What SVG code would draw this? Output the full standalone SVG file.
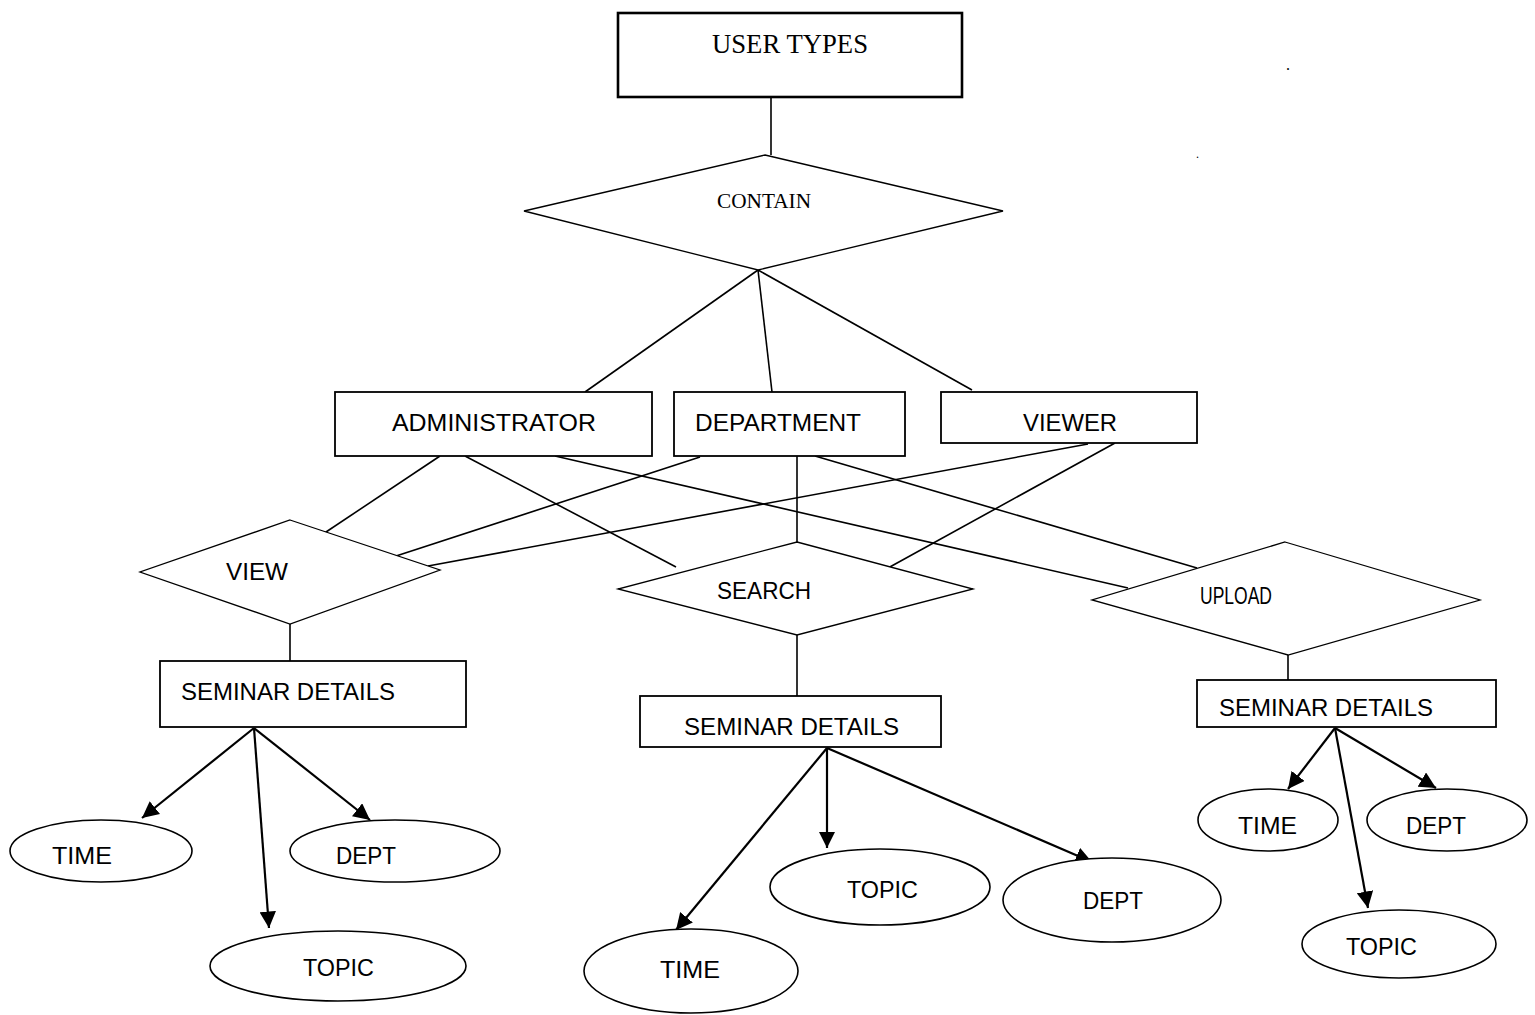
<svg xmlns="http://www.w3.org/2000/svg" width="1535" height="1015" viewBox="0 0 1535 1015">
<style>
.bg{fill:#fff}
.box{fill:#fff;stroke:#000;stroke-width:1.8}
.dia{fill:#fff;stroke:#000;stroke-width:1.3}
.ell{fill:#fff;stroke:#000;stroke-width:1.6}
.ln{stroke:#000;stroke-width:1.6;fill:none}
.ar{stroke:#000;stroke-width:2.2;fill:none;marker-end:url(#ah)}
.s{font-family:"Liberation Sans",Arial,sans-serif;font-size:24px;fill:#000}
.r{font-family:"Liberation Serif","Times New Roman",serif;fill:#000}
</style>
<defs>
<marker id="ah" viewBox="0 0 10 10" refX="10" refY="5" markerWidth="7.5" markerHeight="7.5" markerUnits="strokeWidth" orient="auto">
<path d="M0,0 L10,5 L0,10 z" fill="#000"/>
</marker>
</defs>
<rect class="bg" x="0" y="0" width="1535" height="1015"/>

<g id="connectors">
<line class="ln" x1="771" y1="97" x2="771" y2="155"/>
<line class="ln" x1="758" y1="270" x2="585" y2="392"/>
<line class="ln" x1="758" y1="270" x2="772" y2="392"/>
<line class="ln" x1="758" y1="270" x2="972" y2="390"/>
<line class="ln" x1="440" y1="456" x2="320" y2="536"/>
<line class="ln" x1="700" y1="457" x2="393" y2="557"/>
<line class="ln" x1="1088" y1="444" x2="428" y2="566"/>
<line class="ln" x1="465" y1="456" x2="676" y2="567"/>
<line class="ln" x1="555" y1="456" x2="1128" y2="588"/>
<line class="ln" x1="797" y1="456" x2="797" y2="542"/>
<line class="ln" x1="815" y1="456" x2="1197" y2="568"/>
<line class="ln" x1="1115" y1="443" x2="888" y2="568"/>
<line class="ln" x1="290" y1="624" x2="290" y2="661"/>
<line class="ln" x1="797" y1="635" x2="797" y2="696"/>
<line class="ln" x1="1288" y1="655" x2="1288" y2="680"/>
<line class="ar" x1="254" y1="728" x2="142" y2="818"/>
<line class="ar" x1="254" y1="728" x2="269" y2="928"/>
<line class="ar" x1="254" y1="728" x2="370" y2="820"/>
<line class="ar" x1="827" y1="748" x2="676" y2="930"/>
<line class="ar" x1="827" y1="748" x2="827" y2="848"/>
<line class="ar" x1="827" y1="748" x2="1092" y2="862"/>
<line class="ar" x1="1335" y1="728" x2="1288" y2="789"/>
<line class="ar" x1="1335" y1="728" x2="1368" y2="908"/>
<line class="ar" x1="1335" y1="728" x2="1436" y2="788"/>
</g>

<g id="user-types">
<rect x="618" y="13" width="344" height="84" fill="#fff" stroke="#000" stroke-width="2.6"/>
<text class="r" x="790" y="53" font-size="27" text-anchor="middle" textLength="156" lengthAdjust="spacingAndGlyphs">USER TYPES</text>
</g>
<g id="contain">
<polygon class="dia" points="765,155 1003,211 758,270 524,211"/>
<text class="r" x="764" y="208" font-size="20" text-anchor="middle" textLength="94" lengthAdjust="spacingAndGlyphs">CONTAIN</text>
</g>
<g id="administrator">
<rect class="box" x="335" y="392" width="317" height="64"/>
<text class="s" x="494" y="431" text-anchor="middle" textLength="204" lengthAdjust="spacingAndGlyphs">ADMINISTRATOR</text>
</g>
<g id="department">
<rect class="box" x="674" y="392" width="231" height="64"/>
<text class="s" x="778" y="431" text-anchor="middle" textLength="166" lengthAdjust="spacingAndGlyphs">DEPARTMENT</text>
</g>
<g id="viewer">
<rect class="box" x="941" y="392" width="256" height="51"/>
<text class="s" x="1070" y="431" text-anchor="middle" textLength="94" lengthAdjust="spacingAndGlyphs">VIEWER</text>
</g>
<g id="view">
<polygon class="dia" points="290,520 440,570 290,624 140,572"/>
<text class="s" x="257" y="580" text-anchor="middle" textLength="62" lengthAdjust="spacingAndGlyphs">VIEW</text>
</g>
<g id="search">
<polygon class="dia" points="797,542 973,589 797,635 618,589"/>
<text class="s" x="764" y="599" text-anchor="middle" textLength="94" lengthAdjust="spacingAndGlyphs">SEARCH</text>
</g>
<g id="upload">
<polygon class="dia" points="1285,542 1480,600 1288,655 1092,600"/>
<text class="s" x="1236" y="604" text-anchor="middle" textLength="72" lengthAdjust="spacingAndGlyphs">UPLOAD</text>
</g>
<g id="seminar-1">
<rect class="box" x="160" y="661" width="306" height="66"/>
<text class="s" x="181" y="700" textLength="214" lengthAdjust="spacingAndGlyphs">SEMINAR DETAILS</text>
</g>
<g id="seminar-2">
<rect class="box" x="640" y="696" width="301" height="51"/>
<text class="s" x="684" y="735" textLength="215" lengthAdjust="spacingAndGlyphs">SEMINAR DETAILS</text>
</g>
<g id="seminar-3">
<rect class="box" x="1197" y="680" width="299" height="47"/>
<text class="s" x="1219" y="716" textLength="214" lengthAdjust="spacingAndGlyphs">SEMINAR DETAILS</text>
</g>
<g id="time-1">
<ellipse class="ell" cx="101" cy="851" rx="91" ry="31"/>
<text class="s" x="52" y="864" textLength="60" lengthAdjust="spacingAndGlyphs">TIME</text>
</g>
<g id="dept-1">
<ellipse class="ell" cx="395" cy="851" rx="105" ry="31"/>
<text class="s" x="336" y="864" textLength="60" lengthAdjust="spacingAndGlyphs">DEPT</text>
</g>
<g id="topic-1">
<ellipse class="ell" cx="338" cy="966" rx="128" ry="35"/>
<text class="s" x="303" y="976" textLength="71" lengthAdjust="spacingAndGlyphs">TOPIC</text>
</g>
<g id="topic-2">
<ellipse class="ell" cx="880" cy="887" rx="110" ry="38"/>
<text class="s" x="847" y="898" textLength="71" lengthAdjust="spacingAndGlyphs">TOPIC</text>
</g>
<g id="dept-2">
<ellipse class="ell" cx="1112" cy="900" rx="109" ry="42"/>
<text class="s" x="1083" y="909" textLength="60" lengthAdjust="spacingAndGlyphs">DEPT</text>
</g>
<g id="time-2">
<ellipse class="ell" cx="691" cy="971" rx="107" ry="42"/>
<text class="s" x="660" y="978" textLength="60" lengthAdjust="spacingAndGlyphs">TIME</text>
</g>
<g id="time-3">
<ellipse class="ell" cx="1268" cy="820" rx="70" ry="31"/>
<text class="s" x="1238" y="834" textLength="59" lengthAdjust="spacingAndGlyphs">TIME</text>
</g>
<g id="dept-3">
<ellipse class="ell" cx="1447" cy="820" rx="80" ry="31"/>
<text class="s" x="1406" y="834" textLength="60" lengthAdjust="spacingAndGlyphs">DEPT</text>
</g>
<g id="topic-3">
<ellipse class="ell" cx="1399" cy="944" rx="97" ry="34"/>
<text class="s" x="1346" y="955" textLength="71" lengthAdjust="spacingAndGlyphs">TOPIC</text>
</g>
<text class="r" x="1286" y="70" font-size="16">.</text>
<text class="r" x="1196" y="158" font-size="12">.</text>
</svg>
